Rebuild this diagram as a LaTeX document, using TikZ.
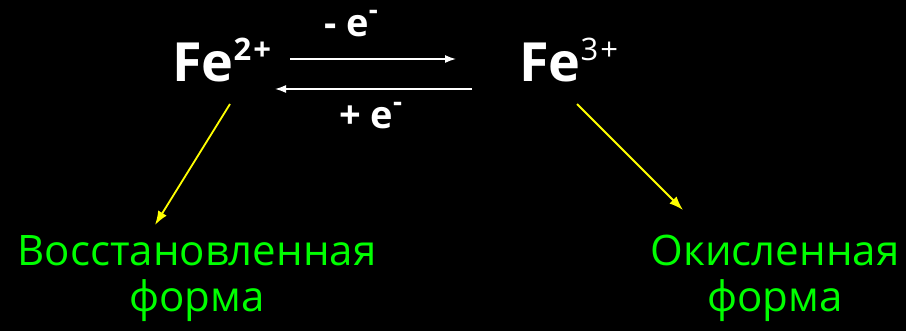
\documentclass[tikz,border=0pt]{standalone}
\usepackage{fontspec}
\setmainfont{Open Sans}
\usetikzlibrary{arrows.meta, positioning, calc}
\definecolor{formgreen}{RGB}{0, 255, 0}
\definecolor{pointer}{RGB}{255, 255, 0}
\newcommand{\ioncharge}[1]{\raisebox{21pt}{\fontsize{31}{31}\selectfont #1}}
\newcommand{\electroncharge}{\raisebox{17pt}{\fontsize{28}{28}\selectfont -}}
\tikzset{
  ionlabel/.style={text=white, font=\fontsize{54}{54}\selectfont\bfseries, inner sep=0pt, anchor=base west},
  electronlabel/.style={text=white, font=\fontsize{38}{38}\selectfont\bfseries, inner sep=0pt, anchor=base west},
  formlabel/.style={text=formgreen, font=\fontsize{42}{46}\selectfont, align=center, inner sep=0pt, anchor=north},
  reactline/.style={draw=white, line width=1.5pt, -{Latex[length=11pt, width=8pt]}},
  pointline/.style={draw=pointer, line width=1.8pt, -{Latex[length=14pt, width=10pt]}}
}
\begin{document}
\begin{tikzpicture}[x=1pt, y=-1pt]

  % background and page size
  \fill[black] (0,0) rectangle (906,331);
  \useasboundingbox (0,0) rectangle (906,331);

  % Ions
  \node[ionlabel] (fe2) at (172,82) {Fe\ioncharge{2\kern2pt+}};
  \node[ionlabel] (fe3) at (519,82) {Fe\ioncharge{\mdseries 3\kern2pt+}};

  % Electron transfer
  \node[electronlabel] (loss) at (324,37) {- e\electroncharge};
  \node[electronlabel] (gain) at (339,129) {+ e\electroncharge};

  % Forms
  \node[formlabel] (reduced) at (197,235) {Восстановленная\\форма};
  \node[formlabel] (oxidized) at (775,235) {Окисленная\\форма};

  % Flows
  \draw[reactline] ([shift={(118,-23)}]fe2.base west) -- ([shift={(-63,-23)}]fe3.base west);
  \draw[reactline] ([shift={(-47,7)}]fe3.base west) -- ([shift={(103,7)}]fe2.base west);

  \draw[pointline] ([shift={(58,22)}]fe2.base west) -- ([shift={(-42,-10)}]reduced.north);
  \draw[pointline] ([shift={(58,22)}]fe3.base west) -- ([shift={(-92,-25)}]oxidized.north);

\end{tikzpicture}
\end{document}
